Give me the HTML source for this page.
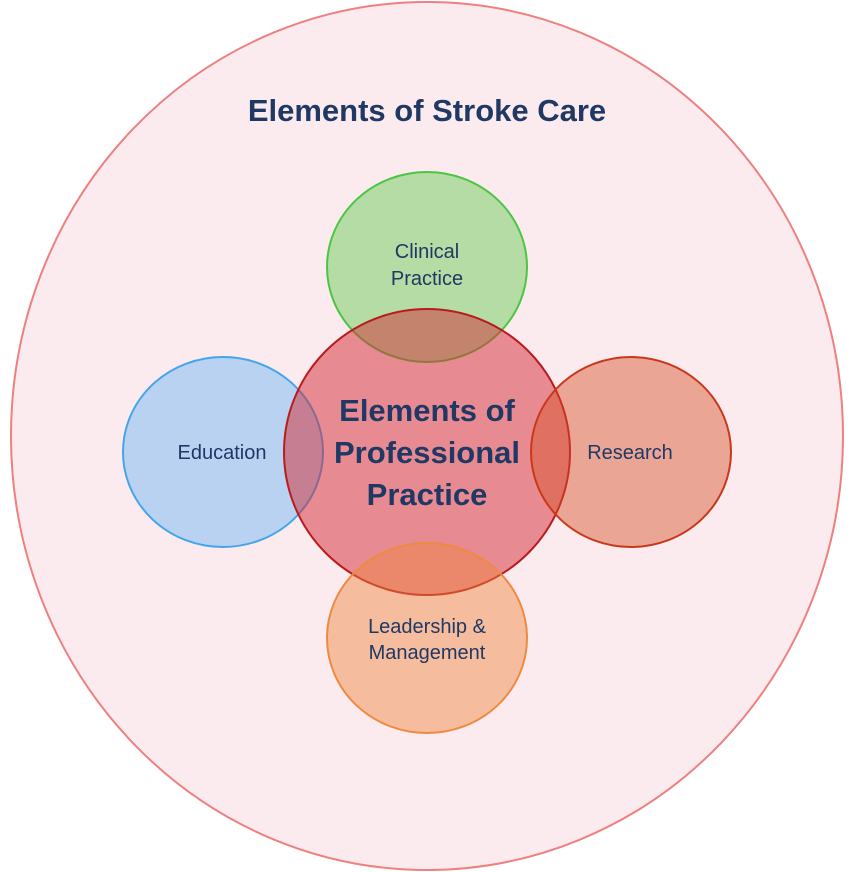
<!DOCTYPE html>
<html><head><meta charset="utf-8"><style>
html,body{margin:0;padding:0;background:#fff;}
svg{display:block;}
text{font-family:"Liberation Sans",sans-serif;fill:#1f3864;}
</style></head><body>
<svg width="854" height="872" viewBox="0 0 854 872" xmlns="http://www.w3.org/2000/svg">
<ellipse cx="427" cy="436" rx="416" ry="434" fill="#fbebee" stroke="#ee8080" stroke-width="2"/>
<text x="427" y="121" text-anchor="middle" font-size="31" font-weight="bold">Elements of Stroke Care</text>
<ellipse cx="427" cy="267" rx="100" ry="95" fill="rgba(110,205,90,0.5)" stroke="#4cc545" stroke-width="2"/>
<ellipse cx="223" cy="452" rx="100" ry="95" fill="rgba(120,185,245,0.5)" stroke="#45a5ea" stroke-width="2"/>
<ellipse cx="427" cy="452" rx="143" ry="143" fill="rgba(212,42,51,0.5)" stroke="#b81c1c" stroke-width="2"/>
<ellipse cx="631" cy="452" rx="100" ry="95" fill="rgba(215,80,40,0.45)" stroke="#c8381a" stroke-width="2"/>
<ellipse cx="427" cy="638" rx="100" ry="95" fill="rgba(240,130,60,0.45)" stroke="#ee8a40" stroke-width="2"/>
<text x="427" y="258" text-anchor="middle" font-size="20">Clinical</text>
<text x="427" y="285" text-anchor="middle" font-size="20">Practice</text>
<text x="222" y="459" text-anchor="middle" font-size="20">Education</text>
<text x="630" y="459" text-anchor="middle" font-size="20">Research</text>
<text x="427" y="633" text-anchor="middle" font-size="20">Leadership &amp;</text>
<text x="427" y="659" text-anchor="middle" font-size="20">Management</text>
<text x="427" y="421" text-anchor="middle" font-size="31" font-weight="bold">Elements of</text>
<text x="427" y="463" text-anchor="middle" font-size="31" font-weight="bold">Professional</text>
<text x="427" y="505" text-anchor="middle" font-size="31" font-weight="bold">Practice</text>
</svg>
</body></html>
